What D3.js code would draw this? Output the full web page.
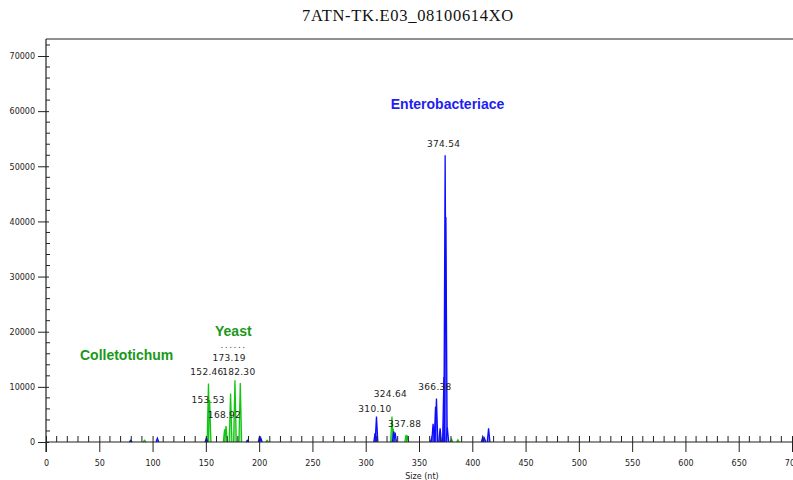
<!DOCTYPE html>
<html>
<head>
<meta charset="utf-8">
<script src="https://cdn.jsdelivr.net/npm/d3@7/dist/d3.min.js"></script>
<style>
  html, body { margin: 0; padding: 0; background: #fff; }
  svg { display: block; }
</style>
</head>
<body>
<svg id="chart" width="793" height="480"></svg>
<script>
// Sample run name
const runTitle = "7ATN-TK.E03_08100614XO";

// Axis tick labels
const sizeTickLabels = [0, 50, 100, 150, 200, 250, 300, 350, 400, 450, 500, 550, 600, 650, 700];
const heightTickLabels = [0, 10000, 20000, 30000, 40000, 50000, 60000, 70000];

// Green dye peaks: fragment size (nt) and peak height (rfu)
const greenSizes   = [92.5, 152.46, 153.53, 167.6, 168.92, 173.19, 177.3, 182.30, 207.5, 324.64, 325.8, 337.88, 339.2, 380.5, 386.5];
const greenHeights = [300, 10600, 7600, 2300, 2900, 8800, 11200, 10700, 300, 4600, 2400, 1300, 900, 500, 400];

// Blue dye peaks
const blueSizes   = [79.5, 104.5, 150.5, 189, 200.5, 201.6, 308.8, 310.10, 326.3, 327.6, 362.0, 363.2, 365.5, 366.38, 369.8, 373.4, 374.54, 375.2, 376.6, 409.8, 411.4, 415.3];
const blueHeights = [300, 700, 700, 300, 1100, 700, 1600, 4600, 1900, 1700, 800, 3300, 6400, 7900, 2500, 11800, 52000, 40800, 2600, 900, 700, 2500];

// Called peaks (size labels) and the dye each belongs to
const calledSizes = [152.46, 153.53, 168.92, 173.19, 182.30, 310.10, 324.64, 337.88, 366.38, 374.54];
const calledDyes  = ["green", "green", "green", "green", "green", "blue", "green", "green", "blue", "blue"];

// Organism group annotations
const groupNames = ["Colletotichum", "Yeast", "Enterobacteriace"];
const groupDyes  = ["green", "green", "blue"];

// ---- layout & style ----
const svg = d3.select("#chart");
const x = d3.scaleLinear().domain([0, 700]).range([46, 792]);
const y = d3.scaleLinear().domain([0, 70000]).range([442, 56]);
const plotTop = 39;

const dyeStroke = { green: "#14c414", blue: "#0c0cff" };
const dyeFill   = { green: "#9cec9c", blue: "#7a7aff" };
const dyeText   = { green: "#1a981a", blue: "#1e1ef2" };

// Title
svg.append("text")
  .attr("x", 408).attr("y", 20.5)
  .attr("text-anchor", "middle")
  .attr("font-family", "Liberation Serif, Times New Roman, serif")
  .attr("font-size", 16.5)
  .attr("letter-spacing", 0.7)
  .attr("fill", "#111")
  .text(runTitle);

// Frame: top rule and left axis line
svg.append("line")
  .attr("x1", x(0)).attr("x2", 793)
  .attr("y1", plotTop).attr("y2", plotTop)
  .attr("stroke", "#222").attr("stroke-width", 1.2);

// Peaks drawn as narrow spikes from the baseline
const halfWidth = 1.25;
function drawPeaks(sizes, heights, dye) {
  const peaks = sizes.map((s, i) => ({ s, h: heights[i] }));
  const g = svg.append("g");
  g.selectAll("path").data(peaks).join("path")
    .attr("d", d => `M${x(d.s - halfWidth)},${y(0)} L${x(d.s)},${y(d.h)} L${x(d.s + halfWidth)},${y(0)}`)
    .attr("fill", dyeFill[dye])
    .attr("stroke", dyeStroke[dye])
    .attr("stroke-width", 1.3)
    .attr("stroke-linejoin", "miter");
}
drawPeaks(greenSizes, greenHeights, "green");
drawPeaks(blueSizes, blueHeights, "blue");

// Y axis: major ticks outward, minor ticks inward
const yAxisG = svg.append("g").attr("transform", `translate(${x(0)},0)`);
yAxisG.append("line")
  .attr("x1", 0).attr("x2", 0)
  .attr("y1", plotTop).attr("y2", y(0) + 10)
  .attr("stroke", "#222").attr("stroke-width", 1.2);
const yMinor = d3.range(0, 72001, 2000).filter(v => v % 10000 !== 0);
yAxisG.selectAll("line.minor").data(yMinor).join("line")
  .attr("class", "minor")
  .attr("x1", 0).attr("x2", 4)
  .attr("y1", d => y(d)).attr("y2", d => y(d))
  .attr("stroke", "#222").attr("stroke-width", 1);
const yAxis = d3.axisLeft(y).tickValues(heightTickLabels).tickSize(8).tickPadding(3).tickFormat(d3.format("d"));
const yAx = svg.append("g").attr("transform", `translate(${x(0)},0)`).call(yAxis);
yAx.select(".domain").remove();
yAx.selectAll(".tick line").attr("stroke", "#222").attr("x2", -8).attr("x1", 3);
yAx.selectAll(".tick text")
  .attr("font-family", "DejaVu Sans, sans-serif")
  .attr("font-size", 8)
  .attr("fill", "#222")
  .attr("dy", "0.35em");

// X axis: major ticks crossing, minor ticks inward every 10 nt
const xAxisG = svg.append("g").attr("transform", `translate(0,${y(0)})`);
xAxisG.append("line")
  .attr("x1", x(0)).attr("x2", 793)
  .attr("y1", 0).attr("y2", 0)
  .attr("stroke", "#222").attr("stroke-width", 1.2);
const xMinor = d3.range(10, 700, 10).filter(v => v % 50 !== 0);
xAxisG.selectAll("line.minor").data(xMinor).join("line")
  .attr("class", "minor")
  .attr("x1", d => x(d)).attr("x2", d => x(d))
  .attr("y1", 0).attr("y2", -6)
  .attr("stroke", "#222").attr("stroke-width", 1);
const xAxis = d3.axisBottom(x).tickValues(sizeTickLabels).tickSize(10).tickPadding(8).tickFormat(d3.format("d"));
const xAx = svg.append("g").attr("transform", `translate(0,${y(0)})`).call(xAxis);
xAx.select(".domain").remove();
xAx.selectAll(".tick line").attr("stroke", "#222").attr("y1", -6).attr("y2", 10);
xAx.selectAll(".tick text")
  .attr("font-family", "DejaVu Sans, sans-serif")
  .attr("font-size", 8)
  .attr("fill", "#222");

svg.append("text")
  .attr("x", 422).attr("y", 479)
  .attr("text-anchor", "middle")
  .attr("font-family", "DejaVu Sans, sans-serif")
  .attr("font-size", 8)
  .attr("fill", "#222")
  .text("Size (nt)");

// Peak size labels, lifted above each peak (stacked where they crowd)
const labelLift = { "152.46": 9, "153.53": -3, "168.92": 8, "173.19": 32, "182.30": 8,
                    "310.10": 5, "324.64": 20, "337.88": 8, "366.38": 8, "374.54": 8 };
const allPeaks = {
  green: greenSizes.map((s, i) => ({ s, h: greenHeights[i] })),
  blue: blueSizes.map((s, i) => ({ s, h: blueHeights[i] }))
};
const called = calledSizes.map((s, i) => {
  const p = allPeaks[calledDyes[i]].find(q => q.s === s);
  return { s, h: p ? p.h : 0, key: s.toFixed(2) };
});
svg.append("g").selectAll("text").data(called).join("text")
  .attr("x", d => x(d.s) - 1.5)
  .attr("y", d => y(d.h) - labelLift[d.key])
  .attr("text-anchor", "middle")
  .attr("font-family", "DejaVu Sans, sans-serif")
  .attr("font-size", 9)
  .attr("letter-spacing", 0.3)
  .attr("fill", "#222")
  .text(d => d.key);

// Partly hidden label above the yeast cluster
svg.append("text")
  .attr("x", x(176)).attr("y", 348)
  .attr("text-anchor", "middle")
  .attr("font-family", "DejaVu Sans, sans-serif")
  .attr("font-size", 9)
  .attr("letter-spacing", 1.5)
  .attr("fill", "#444")
  .text("......");

// Organism group annotations, anchored in data space
const groupAt = [[31.9, 14870], [158.6, 19220], [323.5, 60390]];
svg.append("g").selectAll("text").data(groupNames).join("text")
  .attr("x", (d, i) => x(groupAt[i][0]))
  .attr("y", (d, i) => y(groupAt[i][1]))
  .attr("font-family", "Liberation Sans, Arial, sans-serif")
  .attr("font-weight", "bold")
  .attr("font-size", 14)
  .attr("fill", (d, i) => dyeText[groupDyes[i]])
  .text(d => d);
</script>
</body>
</html>
